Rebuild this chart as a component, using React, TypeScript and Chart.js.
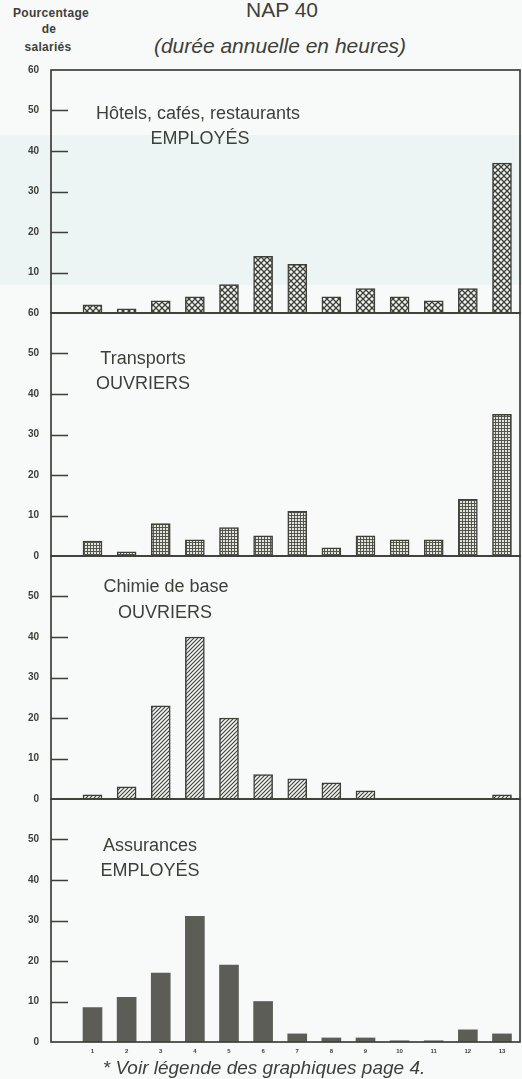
import React, { useEffect, useRef } from 'react';
import { Chart, registerables } from 'chart.js';

Chart.register(...registerables);

// ---------- data ----------
const categories = ['1', '2', '3', '4', '5', '6', '7', '8', '9', '10', '11', '12', '13'];
const hotelsEmployes = [2, 1, 3, 4, 7, 14, 12, 4, 6, 4, 3, 6, 37];
const transportsOuvriers = [3.7, 1, 8, 4, 7, 5, 11, 2, 5, 4, 4, 14, 35];
const chimieOuvriers = [1, 3, 23, 40, 20, 6, 5, 4, 2, 0, 0, 0, 1];
const assurancesEmployes = [8.5, 11, 17, 31, 19, 10, 2, 1, 1, 0.3, 0.3, 3, 2];

const ticksTop = [60, 50, 40, 30, 20, 10];
const ticksSecond = [60, 50, 40, 30, 20, 10, 0];
const ticksLower = [50, 40, 30, 20, 10, 0];
const innerTicks = [10, 20, 30, 40, 50];

// ---------- style ----------
const INK = '#3f3f3a';
const FONT = '"Liberation Sans", Arial, Helvetica, sans-serif';
const PANEL_H = 243;
const PAD = 8;
const X_AXIS_H = 22;
const X_MIN = -0.216;
const X_MAX = 13.528;

type PatternKind = 'cross' | 'grid' | 'hatch' | 'solid';

function makePattern(kind: PatternKind): CanvasPattern | string {
  if (kind === 'solid') return '#5d5d58';
  const c = document.createElement('canvas');
  const ctx = c.getContext('2d')!;
  if (kind === 'cross') {
    c.width = 6; c.height = 6;
    ctx.fillStyle = '#eef3f0';
    ctx.fillRect(0, 0, 6, 6);
    ctx.strokeStyle = INK;
    ctx.lineWidth = 1.3;
    ctx.beginPath();
    ctx.moveTo(-1, -1); ctx.lineTo(7, 7);
    ctx.moveTo(7, -1); ctx.lineTo(-1, 7);
    ctx.stroke();
  } else if (kind === 'grid') {
    c.width = 3; c.height = 3;
    ctx.fillStyle = '#e4e4de';
    ctx.fillRect(0, 0, 3, 3);
    ctx.fillStyle = '#55554f';
    ctx.fillRect(0, 0, 3, 1);
    ctx.fillRect(0, 0, 1, 3);
  } else {
    c.width = 4; c.height = 4;
    ctx.fillStyle = '#f3f5f3';
    ctx.fillRect(0, 0, 4, 4);
    ctx.strokeStyle = INK;
    ctx.lineWidth = 1.1;
    ctx.beginPath();
    ctx.moveTo(-1, 5); ctx.lineTo(5, -1);
    ctx.moveTo(-1, 1); ctx.lineTo(1, -1);
    ctx.moveTo(3, 5); ctx.lineTo(5, 3);
    ctx.stroke();
  }
  return ctx.createPattern(c, 'repeat')!;
}

const framePlugin = {
  id: 'frame',
  afterDatasetsDraw(chart: any) {
    const { ctx, chartArea } = chart;
    const { left, right, top, bottom } = chartArea;
    const y = chart.scales.y;
    ctx.save();
    ctx.strokeStyle = INK;
    ctx.lineWidth = 1.7;
    ctx.strokeRect(left, top, right - left, bottom - top);
    ctx.beginPath();
    for (const v of innerTicks) {
      const py = Math.round(y.getPixelForValue(v)) + 0.5;
      ctx.moveTo(left, py);
      ctx.lineTo(left + 17, py);
    }
    ctx.lineWidth = 1.5;
    ctx.stroke();
    ctx.restore();
  },
};

interface PanelProps {
  values: number[];
  pattern: PatternKind;
  tickValues: number[];
  top: number;
  showX: boolean;
}

function Panel({ values, pattern, tickValues, top, showX }: PanelProps) {
  const ref = useRef<HTMLCanvasElement>(null);
  const height = PAD + PANEL_H + (showX ? X_AXIS_H : PAD);

  useEffect(() => {
    const canvas = ref.current!;
    const fill = makePattern(pattern);
    const chart = new Chart(canvas, {
      type: 'bar',
      data: {
        datasets: [
          {
            data: values.map((v, i) => ({ x: i + 1, y: v })),
            backgroundColor: fill as any,
            borderColor: INK,
            borderWidth: pattern === 'solid' ? 0 : 1.5,
            barThickness: 19,
          },
        ],
      },
      options: {
        animation: false,
        responsive: false,
        events: [],
        layout: { padding: { left: 0, right: 2, top: PAD, bottom: showX ? 0 : PAD } },
        plugins: { legend: { display: false }, tooltip: { enabled: false } },
        scales: {
          x: {
            type: 'linear',
            min: X_MIN,
            max: X_MAX,
            offset: false,
            display: showX,
            grid: { display: false, drawTicks: false },
            border: { display: false },
            afterBuildTicks: (s: any) => {
              s.ticks = categories.map((_, i) => ({ value: i + 1 }));
            },
            afterFit: (s: any) => {
              s.height = showX ? X_AXIS_H : 0;
              s.paddingLeft = 0;
              s.paddingRight = 0;
            },
            ticks: {
              autoSkip: false,
              maxRotation: 0,
              padding: 6,
              color: INK,
              font: { family: FONT, size: 6, weight: 'bold' },
              callback: (v: any) => categories[Math.round(v) - 1] ?? '',
            },
          },
          y: {
            type: 'linear',
            min: 0,
            max: 60,
            grid: { display: false, drawTicks: false },
            border: { display: false },
            afterBuildTicks: (s: any) => {
              s.ticks = tickValues.map((v) => ({ value: v }));
            },
            afterFit: (s: any) => {
              s.width = 51;
              s.paddingTop = 0;
              s.paddingBottom = 0;
            },
            ticks: {
              padding: 12,
              color: INK,
              font: { family: FONT, size: 10, weight: 'bold' },
              callback: (v: any) => String(v),
            },
          },
        },
      },
      plugins: [framePlugin],
    } as any);
    return () => chart.destroy();
  }, []);

  return (
    <canvas
      ref={ref}
      width={522}
      height={height}
      style={{ position: 'absolute', left: 0, top: top - PAD, width: 522, height }}
    />
  );
}

function Label({ text, cx, cy, size, italic, bold, spacing }: { text: string; cx: number; cy: number; size: number; italic?: boolean; bold?: boolean; spacing?: number }) {
  return (
    <div
      style={{
        position: 'absolute',
        left: cx,
        top: cy,
        transform: 'translate(-50%, -50%)',
        whiteSpace: 'nowrap',
        fontFamily: FONT,
        fontSize: size,
        lineHeight: 1,
        letterSpacing: spacing ?? 0,
        fontStyle: italic ? 'italic' : 'normal',
        fontWeight: bold ? 'bold' : 'normal',
        color: INK,
      }}
    >
      {text}
    </div>
  );
}

export default function App() {
  const P1 = 70;
  return (
    <div style={{ position: 'absolute', left: 0, top: 0, width: 522, height: 1079, background: '#f7faf8', overflow: 'hidden' }}>
      <div style={{ position: 'absolute', left: 0, top: 135, width: 522, height: 150, background: '#ecf5f3' }} />
      <Label text="Pourcentage" cx={51} cy={13} size={12} bold spacing={0.3} />
      <Label text="de" cx={49} cy={29} size={12} bold spacing={0.3} />
      <Label text="salariés" cx={48} cy={47} size={12} bold spacing={0.3} />
      <Label text="NAP 40" cx={282} cy={9} size={21} />
      <Label text="(durée annuelle en heures)" cx={280} cy={45} size={21} italic />

      <Panel values={hotelsEmployes} pattern="cross" tickValues={ticksTop} top={P1} showX={false} />
      <Panel values={transportsOuvriers} pattern="grid" tickValues={ticksSecond} top={P1 + PANEL_H} showX={false} />
      <Panel values={chimieOuvriers} pattern="hatch" tickValues={ticksLower} top={P1 + 2 * PANEL_H} showX={false} />
      <Panel values={assurancesEmployes} pattern="solid" tickValues={ticksLower} top={P1 + 3 * PANEL_H} showX={true} />

      <Label text="Hôtels, cafés, restaurants" cx={198} cy={113} size={18} />
      <Label text="EMPLOYÉS" cx={200} cy={138} size={18} />
      <Label text="Transports" cx={143} cy={358} size={18} />
      <Label text="OUVRIERS" cx={143} cy={383} size={18} />
      <Label text="Chimie de base" cx={166} cy={586} size={18} />
      <Label text="OUVRIERS" cx={165} cy={612} size={18} />
      <Label text="Assurances" cx={150} cy={845} size={18} />
      <Label text="EMPLOYÉS" cx={150} cy={870} size={18} />

      <Label text="* Voir légende des graphiques page 4." cx={264} cy={1067} size={19} italic />
    </div>
  );
}
